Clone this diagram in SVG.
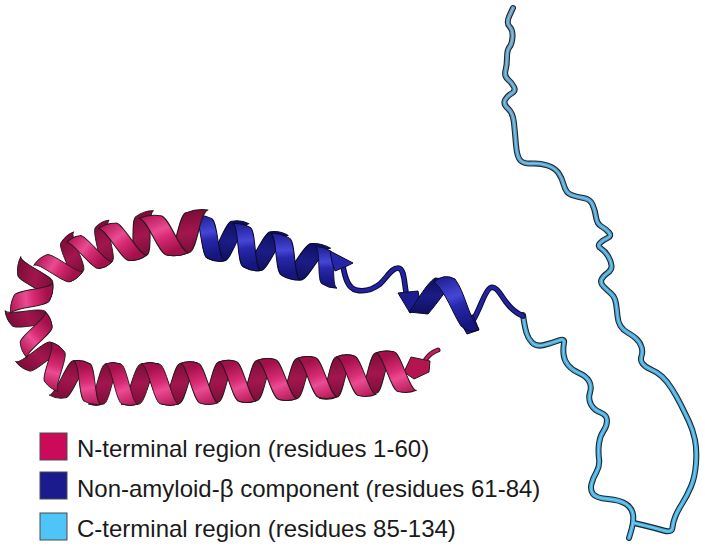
<svg xmlns="http://www.w3.org/2000/svg" width="705" height="548" viewBox="0 0 705 548">
<style>
.ol{stroke:#2a1820;stroke-width:1;stroke-linejoin:round}
.olb{stroke:#0b0b2e;stroke-width:1;stroke-linejoin:round}
.tO{fill:none;stroke:#1c2830;stroke-width:6;stroke-linecap:round;stroke-linejoin:round}
.tC{fill:none;stroke:url(#gc);stroke-width:3.8;stroke-linecap:round;stroke-linejoin:round}
.tH{fill:none;stroke:#b4e6f8;stroke-width:1;stroke-opacity:0.55;stroke-linecap:round;stroke-linejoin:round}
.bO{fill:none;stroke:#0b0b2e;stroke-width:5.6;stroke-linecap:round;stroke-linejoin:round}
.bC{fill:none;stroke:#2222a2;stroke-width:3.6;stroke-linecap:round;stroke-linejoin:round}
.pO{fill:none;stroke:#2a1820;stroke-width:5;stroke-linecap:round}
.pC{fill:none;stroke:#c81a5e;stroke-width:3;stroke-linecap:round}
.lbl{font-family:"Liberation Sans",Arial,sans-serif;font-size:24px;fill:#1a1a1a}
.key{stroke:#4a4a4a;stroke-width:1}
</style>
<defs>
<linearGradient id="gpF" x1="0" y1="0" x2="0.3" y2="1">
<stop offset="0" stop-color="#b0124e"/>
<stop offset="0.45" stop-color="#ea4b93"/>
<stop offset="0.62" stop-color="#d82c74"/>
<stop offset="1" stop-color="#a3104a"/>
</linearGradient>
<linearGradient id="gpB" x1="0" y1="0" x2="0" y2="1">
<stop offset="0" stop-color="#7c0c38"/>
<stop offset="0.5" stop-color="#a2164e"/>
<stop offset="1" stop-color="#7a0c37"/>
</linearGradient>
<linearGradient id="gbF" x1="0" y1="0" x2="0.3" y2="1">
<stop offset="0" stop-color="#1a1a8c"/>
<stop offset="0.45" stop-color="#4646d6"/>
<stop offset="0.62" stop-color="#2828ac"/>
<stop offset="1" stop-color="#161680"/>
</linearGradient>
<linearGradient id="gbB" x1="0" y1="0" x2="0" y2="1">
<stop offset="0" stop-color="#0f0f5e"/>
<stop offset="0.5" stop-color="#1c1c86"/>
<stop offset="1" stop-color="#0f0f5e"/>
</linearGradient>
<linearGradient id="gc" gradientUnits="userSpaceOnUse" x1="0" y1="0" x2="0" y2="548">
<stop offset="0" stop-color="#6d9cbe"/>
<stop offset="0.45" stop-color="#4ea6d6"/>
<stop offset="1" stop-color="#46b4e6"/>
</linearGradient>
<path id="fb" d="M-9,-20 C-2,-20 4,20 11,20 Q20,23 29,20 C22,20 16,-20 9,-20 Q0,-23 -9,-20 Z"/>
<path id="bb" d="M11,20 C18,20 24,-20 31,-20 Q40,-23 49,-20 C42,-20 36,20 29,20 Q20,23 11,20 Z"/>
<g id="tp"><use href="#bb" fill="url(#gpB)" class="ol"/><use href="#fb" fill="url(#gpF)" class="ol"/></g>
<g id="tb"><use href="#bb" fill="url(#gbB)" class="olb"/><use href="#fb" fill="url(#gbF)" class="olb"/></g>
<path id="cA" d="M523,315 L524,321.5 Q525,328 526.5,333 Q528,338 532,342.5 Q536,347 544,345 Q552,343 558.5,340.5 Q565,338 564,343 Q563,348 563.5,354 Q564,360 568,365 Q572,370 579,373 Q586,376 589,381 Q592,386 590,392.5 Q588,399 591,404.5 Q594,410 600.5,412.5 Q607,415 607,420.5 Q607,426 603.5,431 Q600,436 599,443.5 Q598,451 599,458.5 Q600,466 596.5,472 Q593,478 591.5,484 Q590,490 593,494 Q596,498 608,499 Q620,500 626,504 Q632,508 633,514.5 Q634,521 631.5,529.5 L629,538"/>
<path id="cB" d="M634,523 L644.5,525.5 Q655,528 663.5,530.5 Q672,533 672.5,527.5 Q673,522 675.5,516 Q678,510 682.5,503 Q687,496 691,486.5 Q695,477 696,463.5 Q697,450 695,440 Q693,430 689,421.5 Q685,413 681,405 Q677,397 672,389 Q667,381 662,376.5 Q657,372 651,369.5 Q645,367 642.5,363.5 Q640,360 641.5,356 Q643,352 641.5,347 Q640,342 636,338.5 Q632,335 627.5,332.5 Q623,330 620.5,326 Q618,322 617.5,316 Q617,310 616,303.5 Q615,297 611,293.5 Q607,290 603.5,286.5 Q600,283 601.5,279.5 Q603,276 607.5,273 Q612,270 611.5,265.5 Q611,261 608,256 Q605,251 601,248.5 Q597,246 600,243 Q603,240 607.5,238 Q612,236 609,232.5 Q606,229 601.5,226.5 Q597,224 596,217 Q595,210 592.5,204.5 Q590,199 583.5,198 Q577,197 571.5,195 Q566,193 564,185.5 Q562,178 558.5,173 Q555,168 547.5,165.5 Q540,163 532,163.5 Q524,164 520.5,160.5 Q517,157 516,145 Q515,133 514,123 Q513,113 508,108.5 Q503,104 505,100 Q507,96 511.5,93.5 Q516,91 514,87 Q512,83 508,79.5 Q504,76 505.5,70.5 Q507,65 507,57.5 Q507,50 509.5,47 Q512,44 512.5,37 Q513,30 509.5,26.5 Q506,23 509.5,15.5 L513,8"/>
<path id="l1" d="M343,266 C345,278 348,288 356,290 C364,292 372,290 380,284 C388,276 392,268 398,268 C404,268 404,280 406,292"/>
<path id="l2" d="M472,322 C480,310 484,292 490,288 C496,285 500,294 506,302 C512,310 518,314 523,316"/>
<path id="tl" d="M424,362 C428,355 432,352 438,350"/>
</defs>

<g id="c-terminal">
<use href="#cA" class="tO"/>
<use href="#cB" class="tO"/>
<use href="#cA" class="tC"/>
<use href="#cB" class="tC"/>
<use href="#cA" class="tH"/>
<use href="#cB" class="tH"/>
</g>

<g id="nac">
<use href="#l1" class="bO"/>
<use href="#l1" class="bC"/>
<use href="#l2" class="bO"/>
<use href="#l2" class="bC"/>
<use href="#tb" transform="translate(200,237) rotate(8) scale(0.95,1)"/>
<use href="#tb" transform="translate(237,245) rotate(12) scale(0.98,1)"/>
<use href="#tb" transform="translate(275,254) rotate(14) scale(1.07,0.95)"/>
<use href="#fb" fill="url(#gbF)" class="olb" transform="translate(318,265) rotate(16) scale(0.85)"/>
<polygon points="330,251 353,263 347,266 335,271 332,262" fill="#2626a8" class="olb"/>
<polygon points="398,293 418,291 421,307 410,313" fill="#1c1c90" class="olb"/>
<path d="M409,312 C418,300 426,284 435,278 L455,280 C446,290 436,305 428,314 Z" fill="url(#gbB)" class="olb"/>
<polygon points="458,318 473,315 479,330 467,334" fill="#1a1a88" class="olb"/>
<path d="M434,282 Q444,273 455,279 C465,292 468,316 479,329 Q471,335 461,326 C453,314 446,292 434,282 Z" fill="url(#gbF)" class="olb"/>
</g>

<g id="n-terminal">
<use href="#tl" class="pO"/>
<use href="#tl" class="pC"/>
<polygon points="404,372 411,357 430,361 429,372 414,379" fill="#b5154f" class="ol"/>
<use href="#tp" transform="translate(406,371) rotate(176)"/>
<use href="#tp" transform="translate(366,375) rotate(176) scale(0.98,1)"/>
<use href="#tp" transform="translate(327,377) rotate(177)"/>
<use href="#tp" transform="translate(287,379) rotate(177)"/>
<use href="#tp" transform="translate(247,381) rotate(178) scale(0.95,1)"/>
<use href="#tp" transform="translate(209,383) rotate(179) scale(0.98,1)"/>
<use href="#tp" transform="translate(170,384) rotate(180)"/>
<use href="#tp" transform="translate(130,384) rotate(180) scale(0.85,1)"/>
<use href="#tp" transform="translate(96,384) rotate(190) scale(0.9,0.95)"/>
<use href="#tp" transform="translate(62,372) rotate(215) scale(0.9,0.9)"/>
<use href="#tp" transform="translate(40,343) rotate(245) scale(0.9,0.9)"/>
<use href="#tp" transform="translate(30,308) rotate(280) scale(1,0.9)"/>
<use href="#tp" transform="translate(51.5,274) rotate(320) scale(0.9,0.9)"/>
<use href="#tp" transform="translate(82,256) rotate(-28) scale(0.83,0.95)"/>
<use href="#tp" transform="translate(113,245) rotate(-18)"/>
<use href="#tp" transform="translate(152,237) rotate(-7) scale(1.2,1)"/>
</g>

<g id="legend">
<rect class="key" x="40" y="433" width="27" height="27" fill="#cc0a5a"/>
<rect class="key" x="40" y="472" width="27" height="27" fill="#1b1b8e"/>
<rect class="key" x="40" y="513" width="27" height="27" fill="#4fc4f7"/>
<text class="lbl" x="77" y="457">N-terminal region (residues 1-60)</text>
<text class="lbl" x="77" y="497">Non-amyloid-β component (residues 61-84)</text>
<text class="lbl" x="77" y="537">C-terminal region (residues 85-134)</text>
</g>
</svg>
